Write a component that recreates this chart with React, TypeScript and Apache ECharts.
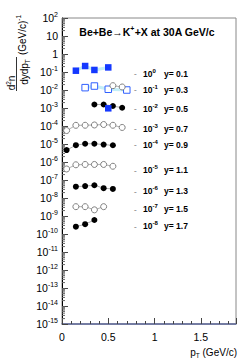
import React, { useEffect, useRef } from "react";
import * as echarts from "echarts";

const FONT = "'Liberation Sans', Arial, Helvetica, sans-serif";

// ---- data (raw values; plotted value = raw * 10^scale) ----
const pt01 = [0.15, 0.25, 0.35, 0.5];
const v01 = [0.118, 0.215, 0.13, 0.18];
const pt03sq = [0.25, 0.35, 0.5, 0.7];
const v03sq = [0.135, 0.166, 0.11, 0.1];
const pt03c = [0.55, 0.65];
const v03c = [0.174, 0.147];
const pt05 = [0.35, 0.45, 0.55, 0.65];
const v05 = [0.156, 0.156, 0.129, 0.103];
const pt05sq = [0.5];
const v05sq = [0.096];
const pt07 = [0.05, 0.15, 0.25, 0.35, 0.45, 0.55, 0.65];
const v07 = [0.056, 0.109, 0.11, 0.114, 0.121, 0.11, 0.083];
const pt09 = [0.05, 0.15, 0.25, 0.35, 0.45, 0.55];
const v09 = [0.046, 0.086, 0.103, 0.103, 0.093, 0.085];
const pt11 = [0.05, 0.15, 0.25, 0.35, 0.45, 0.55];
const v11 = [0.041, 0.07, 0.073, 0.073, 0.073, 0.058];
const pt13 = [0.15, 0.25, 0.35, 0.45, 0.55];
const v13 = [0.0425, 0.046, 0.051, 0.035, 0.032];
const pt15 = [0.15, 0.25, 0.35, 0.45];
const v15 = [0.033, 0.033, 0.022, 0.033];
const pt17 = [0.15, 0.25, 0.35];
const v17 = [0.0255, 0.035, 0.06];

const rapidityLabels = ["y= 0.1", "y= 0.3", "y= 0.5", "y= 0.7", "y= 0.9", "y= 1.1", "y= 1.3", "y= 1.5", "y= 1.7"];
const scaleExponents = [0, -1, -2, -3, -4, -5, -6, -7, -8];
const xTickLabels = ["0", "0.5", "1", "1.5"];

// layout of the annotation rows (screen y)
const labelRowY = [73.5, 89.5, 108.5, 128.5, 144.5, 170, 191, 209, 226];

const pts = (x: number[], v: number[], e: number) => x.map((xx, i) => [xx, v[i] * Math.pow(10, e)]);

export default function App() {
  const ref = useRef<HTMLDivElement>(null);
  useEffect(() => {
    if (!ref.current) return;
    const chart = echarts.init(ref.current, undefined, { renderer: "svg" });

    const minor: number[][] = [];
    for (let k = -15; k <= 1; k++) for (let m = 2; m <= 9; m++) minor.push([0, m * Math.pow(10, k)]);

    const blueLine = { color: "#c4eef8", width: 3 };
    const grayLine = { color: "#b0b0b0", width: 1 };
    const filledCircle = (data: number[][]) => ({
      type: "line", data, symbol: "circle", symbolSize: 6, showSymbol: true,
      itemStyle: { color: "#000" }, lineStyle: grayLine, z: 3,
    });
    const openCircle = (data: number[][]) => ({
      type: "line", data, symbol: "circle", symbolSize: 6,
      itemStyle: { color: "#fff", borderColor: "#808080", borderWidth: 1 }, lineStyle: grayLine, z: 3,
    });

    const labelEls: any[] = [];
    rapidityLabels.forEach((lab, i) => {
      const y = labelRowY[i];
      labelEls.push({ type: "text", x: 134, y, style: { text: "-", font: `bold 8px ${FONT}`, fill: "#999", verticalAlign: "middle", align: "left" } });
      labelEls.push({
        type: "text", x: 143, y,
        style: {
          text: `{b|10}{s|${scaleExponents[i]}}`, align: "left", verticalAlign: "middle",
          rich: {
            b: { fontFamily: FONT, fontWeight: "bold", fontSize: 8.5, lineHeight: 12, verticalAlign: "middle" },
            s: { fontFamily: FONT, fontWeight: "bold", fontSize: 6, lineHeight: 12, verticalAlign: "top" },
          },
        },
      });
      labelEls.push({ type: "text", x: 164, y, style: { text: lab, font: `bold 8.5px ${FONT}`, fill: "#000", verticalAlign: "middle", align: "left" } });
    });

    const rot = Math.PI / 2;
    const option: any = {
      animation: false,
      backgroundColor: "#fff",
      grid: { left: 62, top: 18, width: 174, height: 306, show: true, borderColor: "#888", borderWidth: 1 },
      xAxis: {
        type: "value", min: 0, max: 1.88, interval: 0.5,
        axisLine: { lineStyle: { color: "#5b6698", width: 1.5 } },
        axisTick: { inside: true, length: 6, lineStyle: { color: "#444" } },
        minorTick: { show: true, splitNumber: 5, length: 3, lineStyle: { color: "#444" } },
        splitLine: { show: false },
        axisLabel: {
          color: "#000", fontSize: 10.5, fontFamily: FONT, margin: 7, showMaxLabel: false,
          formatter: (v: number) => { const i = Math.round(v / 0.5); return Math.abs(v - i * 0.5) < 1e-6 && xTickLabels[i] ? xTickLabels[i] : ""; },
        },
      },
      yAxis: {
        type: "log", logBase: 10, min: 1e-15, max: 100, interval: 1, splitNumber: 17,
        axisLine: { lineStyle: { color: "#000", width: 1 } },
        axisTick: { inside: true, length: 6, lineStyle: { color: "#444" } },
        splitLine: { show: false },
        axisLabel: {
          margin: 4,
          formatter: (v: number) => {
            const e = Math.round(Math.log10(v));
            if (e === 0) return "{b|1}";
            if (e === 1) return "{b|10}";
            return `{b|10}{s|${e}}`;
          },
          rich: {
            b: { fontFamily: FONT, fontSize: 10.5, color: "#000", lineHeight: 14, verticalAlign: "middle" },
            s: { fontFamily: FONT, fontSize: 7, color: "#000", lineHeight: 14, verticalAlign: "top" },
          },
        },
      },
      series: [
        {
          type: "custom", data: minor, silent: true, z: 1, clip: false,
          renderItem: (params: any, api: any) => {
            const p = api.coord([api.value(0), api.value(1)]);
            return { type: "line", shape: { x1: p[0], y1: p[1], x2: p[0] + 3, y2: p[1] }, style: { stroke: "#666", lineWidth: 1 } };
          },
        },
        { type: "line", data: pts(pt01, v01, 0), symbol: "rect", symbolSize: 6.5, itemStyle: { color: "#1438ff" }, lineStyle: blueLine, z: 3 },
        { type: "line", data: pts(pt03sq, v03sq, -1), symbol: "rect", symbolSize: 6.5, itemStyle: { color: "#fff", borderColor: "#3060ff", borderWidth: 1 }, lineStyle: blueLine, z: 3 },
        openCircle(pts(pt03c, v03c, -1)),
        filledCircle(pts(pt05, v05, -2)),
        { type: "line", data: pts(pt05sq, v05sq, -2), symbol: "rect", symbolSize: 6.5, itemStyle: { color: "#1438ff" }, lineStyle: blueLine, z: 4 },
        openCircle(pts(pt07, v07, -3)),
        filledCircle(pts(pt09, v09, -4)),
        openCircle(pts(pt11, v11, -5)),
        filledCircle(pts(pt13, v13, -6)),
        openCircle(pts(pt15, v15, -7)),
        filledCircle(pts(pt17, v17, -8)),
      ],
      graphic: [
        {
          type: "text", x: 147, y: 32,
          style: {
            text: "{t|Be+Be→K}{s|+}{t|+X at 30A GeV/c}", align: "center", verticalAlign: "middle",
            rich: {
              t: { fontFamily: FONT, fontWeight: "bold", fontSize: 10.5, lineHeight: 14, verticalAlign: "middle" },
              s: { fontFamily: FONT, fontWeight: "bold", fontSize: 7, lineHeight: 14, verticalAlign: "top" },
            },
          },
        },
        {
          type: "text", x: 237, y: 352,
          style: {
            text: "{b|p}{t|T}{b| (GeV/c)}", align: "right", verticalAlign: "middle",
            rich: {
              b: { fontFamily: FONT, fontSize: 10, lineHeight: 13, verticalAlign: "middle" },
              t: { fontFamily: FONT, fontSize: 6.5, lineHeight: 13, verticalAlign: "bottom" },
            },
          },
        },
        // y-axis title, each piece centred at a screen point and rotated
        {
          type: "text", x: 11, y: 83, rotation: rot,
          style: {
            text: "{b|d}{s|2}{b|n}", align: "center", verticalAlign: "middle",
            rich: {
              b: { fontFamily: FONT, fontSize: 10, lineHeight: 13, verticalAlign: "middle" },
              s: { fontFamily: FONT, fontSize: 6.5, lineHeight: 13, verticalAlign: "top" },
            },
          },
        },
        { type: "line", shape: { x1: 16.5, y1: 57, x2: 16.5, y2: 91 }, style: { stroke: "#000", lineWidth: 0.8 } },
        {
          type: "text", x: 24, y: 72, rotation: rot,
          style: {
            text: "{b|dydp}{t|T}", align: "center", verticalAlign: "middle",
            rich: {
              b: { fontFamily: FONT, fontSize: 10, lineHeight: 13, verticalAlign: "middle" },
              t: { fontFamily: FONT, fontSize: 6.5, lineHeight: 13, verticalAlign: "bottom" },
            },
          },
        },
        {
          type: "text", x: 22, y: 35, rotation: rot,
          style: {
            text: "{b|(GeV/c)}{s|-1}", align: "center", verticalAlign: "middle",
            rich: {
              b: { fontFamily: FONT, fontSize: 10, lineHeight: 14, verticalAlign: "middle" },
              s: { fontFamily: FONT, fontSize: 6.5, lineHeight: 14, verticalAlign: "top" },
            },
          },
        },
        ...labelEls,
      ],
    };
    chart.setOption(option);
    return () => chart.dispose();
  }, []);
  return <div ref={ref} style={{ position: "fixed", left: 0, top: 0, width: 249, height: 361 }} />;
}
